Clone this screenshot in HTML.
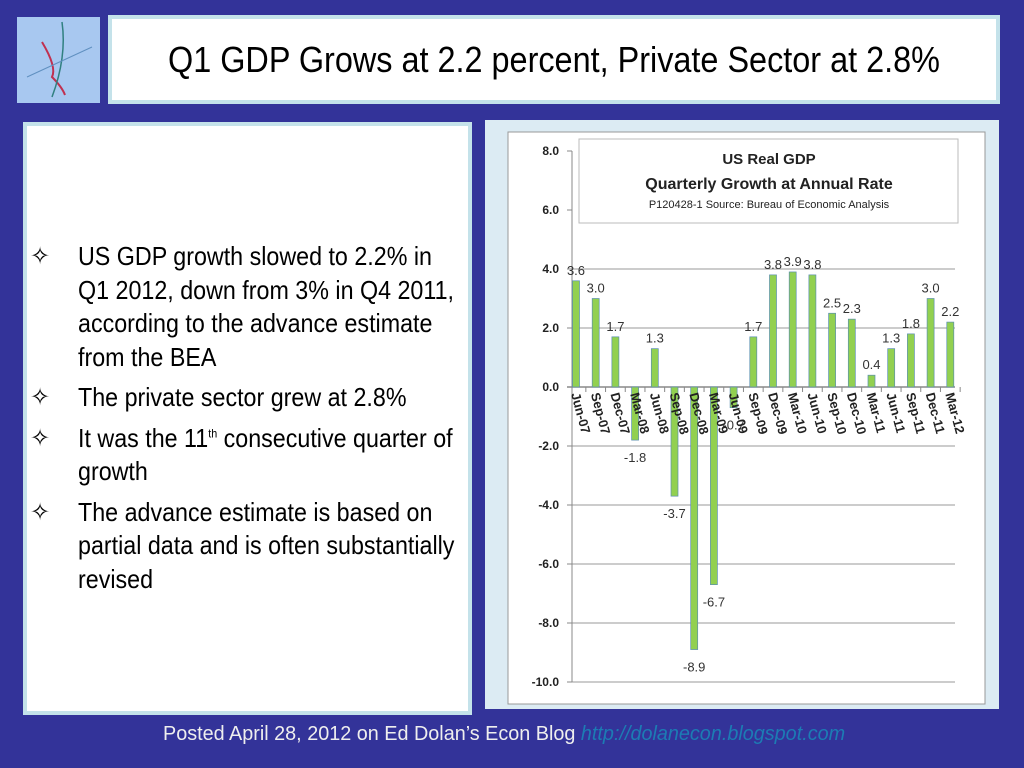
<!DOCTYPE html>
<html><head><meta charset="utf-8"><style>
body{margin:0;width:1024px;height:768px;background:#333399;position:relative;overflow:hidden;font-family:"Liberation Sans",sans-serif}
.abs{position:absolute}
#logo{left:17px;top:17px;width:83px;height:86px;background:#a8c8f0}
#titlebox{left:108px;top:15px;width:884px;height:81px;background:#fff;border:4px solid #c4e2ea}
#title{left:56px;top:20px;font-size:36px;color:#000;white-space:nowrap;transform:scaleX(0.9);transform-origin:0 0}
#left{left:23px;top:122px;width:441px;height:585px;background:#fff;border:4px solid #c4e2ea}
ul{list-style:none;margin:0;padding:0;position:absolute;left:0;top:114px;width:430px}
li{position:relative;padding-left:51px;font-size:26px;line-height:33.5px;margin-bottom:7px;color:#000;white-space:nowrap}
li .t{display:inline-block;transform:scaleX(0.895);transform-origin:0 0}
li .b{position:absolute;left:3px;top:0;font-family:"DejaVu Sans",sans-serif;font-size:24px}
sup{font-size:12px;line-height:0}
#right{left:485px;top:120px;width:514px;height:589px;background:#dcebf3}
#footer{left:163px;top:723px;font-size:20px;color:#eee;white-space:nowrap;transform:scaleX(0.99);transform-origin:0 0}
#footer span{color:#1c7cb4;font-style:italic}
</style></head><body>
<div class="abs" id="logo">
<svg width="83" height="86"><path d="M25 25 Q40 50 35 60 Q45 70 48 78" stroke="#c03050" stroke-width="2" fill="none"/><path d="M45 5 Q50 40 35 80" stroke="#308080" stroke-width="1.5" fill="none"/><path d="M10 60 L75 30" stroke="#6090c0" fill="none"/></svg>
</div>
<div class="abs" id="titlebox"><div class="abs" id="title">Q1 GDP Grows at 2.2 percent, Private Sector at 2.8%</div></div>
<div class="abs" id="left">
<ul>
<li><span class="b">✧</span><span class="t">US GDP growth slowed to 2.2% in<br>Q1 2012, down from 3% in Q4 2011,<br>according to the advance estimate<br>from the BEA</span></li>
<li><span class="b">✧</span><span class="t">The private sector grew at 2.8%</span></li>
<li><span class="b">✧</span><span class="t">It was the 11<sup>th</sup> consecutive quarter of<br>growth</span></li>
<li><span class="b">✧</span><span class="t">The advance estimate is based on<br>partial data and is often substantially<br>revised</span></li>
</ul></div>
<div class="abs" id="right">
<svg id="chart" width="514" height="589" style="position:absolute;left:0;top:0"></svg>
</div>
<div class="abs" id="footer">Posted April 28, 2012 on Ed Dolan’s Econ Blog <span>http://dolanecon.blogspot.com</span></div>
<script>
const categories=["Jun-07","Sep-07","Dec-07","Mar-08","Jun-08","Sep-08","Dec-08","Mar-09","Jun-09","Sep-09","Dec-09","Mar-10","Jun-10","Sep-10","Dec-10","Mar-11","Jun-11","Sep-11","Dec-11","Mar-12"];
const values=[3.6,3.0,1.7,-1.8,1.3,-3.7,-8.9,-6.7,-0.7,1.7,3.8,3.9,3.8,2.5,2.3,0.4,1.3,1.8,3.0,2.2];
const ticks=[8,6,4,2,0,-2,-4,-6,-8,-10];
const NS="http://www.w3.org/2000/svg";
const svg=document.getElementById('chart');
function el(t,a,p){const e=document.createElementNS(NS,t);for(const k in a)e.setAttribute(k,a[k]);(p||svg).appendChild(e);return e;}
const y=v=>267-v*29.5;
const x=i=>91+i*19.7;
const bg=el('rect',{x:23,y:12,width:477,height:572,fill:'#fff',stroke:'#999'});


ticks.forEach(t=>{
 if(t!==8&&t!==6){const g=el('line',{x1:82,x2:470,y1:y(t),y2:y(t),stroke:t===0?'#888':'#999','stroke-width':t===0?1.5:1});
 
 }
 el('line',{x1:82,x2:87,y1:y(t),y2:y(t),stroke:'#888'});
 const tx=el('text',{x:74,y:y(t)+4,'text-anchor':'end','font-size':12,'font-weight':'bold','font-family':'Liberation Sans,sans-serif',fill:'#222'});
 tx.textContent=t.toFixed(1);
 
 
});
el('line',{x1:87,x2:87,y1:y(8),y2:y(-10),stroke:'#888'});
values.forEach((v,i)=>{
 const cx=x(i);
 const b=el('rect',{x:cx-3.5,y:Math.min(y(v),y(0)),width:7,height:Math.abs(y(v)-y(0)),fill:'#92d050',stroke:'#5b8fb0','stroke-width':0.7});
 
 
 const l=el('text',{x:cx,y:v>=0?y(v)-6:y(v)+22,'text-anchor':'middle','font-size':13,'font-family':'Liberation Sans,sans-serif',fill:'#333'});
 l.textContent=v.toFixed(1);
 
 
 const c=el('text',{transform:`translate(${cx-5},${y(0)+7}) rotate(75)`,'font-size':13,'font-weight':'bold','font-family':'Liberation Sans,sans-serif',fill:'#222'});
 c.textContent=categories[i];
 
 
 el('line',{x1:cx+9.85,x2:cx+9.85,y1:y(0),y2:y(0)+5,stroke:'#888'});
});
const tb=el('rect',{x:94,y:19,width:379,height:84,fill:'#fff',stroke:'#bbb'});


[["US  Real GDP",44,15,'bold'],["Quarterly Growth at Annual Rate",69,16,'bold'],["P120428-1 Source: Bureau of Economic Analysis",88,11,'normal']].forEach((r,k)=>{
 const t=el('text',{x:284,y:r[1],'text-anchor':'middle','font-size':r[2],'font-weight':r[3],'font-family':'Liberation Sans,sans-serif',fill:'#222'});
 t.textContent=r[0];
 
 
});
</script>
</body></html>
